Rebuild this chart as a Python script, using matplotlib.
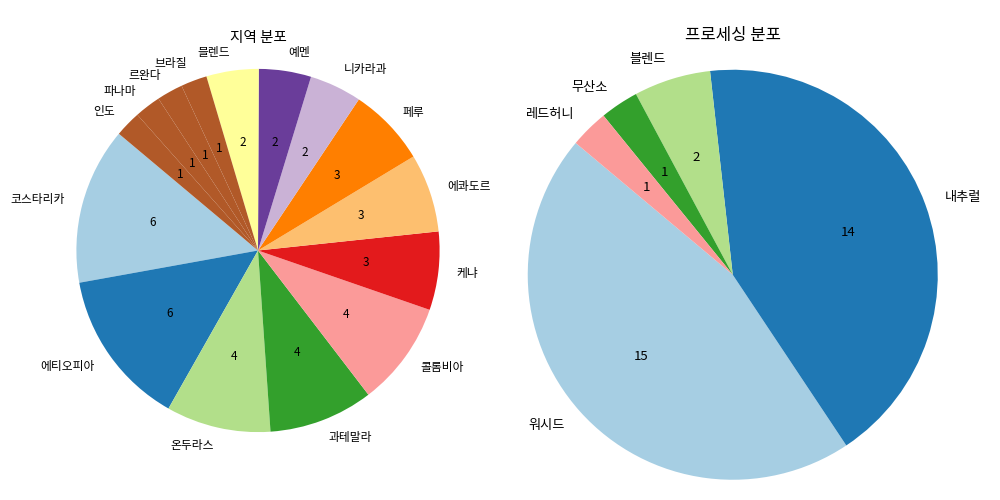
import matplotlib
matplotlib.use("Agg")
import matplotlib.pyplot as plt
import numpy as np

plt.rcParams['font.family'] = ['Noto Sans CJK KR', 'DejaVu Sans']

# 지역 분포
region_labels = ['코스타리카', '에티오피아', '온두라스', '과테말라', '콜롬비아', '케냐',
                 '에콰도르', '페루', '니카라과', '예멘', '블렌드', '브라질', '르완다',
                 '파나마', '인도']
region_counts = [6, 6, 4, 4, 4, 3, 3, 3, 2, 2, 2, 1, 1, 1, 1]

# 프로세싱 분포
process_labels = ['워시드', '내추럴', '블렌드', '무산소', '레드허니']
process_counts = [15, 14, 2, 1, 1]


def count_fmt(values):
    total = sum(values)
    return lambda p: f"{int(round(p * total / 100.0))}"


fig = plt.figure(figsize=(10, 5), dpi=100)

ax1 = fig.add_axes([0.031, 0.045, 0.454, 0.908])
c1 = plt.cm.Paired(np.arange(len(region_counts)))
ax1.pie(region_counts, labels=region_labels, colors=c1, startangle=140,
        autopct=count_fmt(region_counts), textprops={'fontsize': 8.5})
ax1.set_aspect('equal')

ax2 = fig.add_axes([0.4765, -0.062, 0.5125, 1.025])
c2 = plt.cm.Paired(np.arange(len(process_counts)))
ax2.pie(process_counts, labels=process_labels, colors=c2, startangle=140,
        autopct=count_fmt(process_counts), textprops={'fontsize': 9.5})
ax2.set_aspect('equal')

fig.text(0.258, 1 - 38 / 500, '지역 분포', ha='center', va='center', fontsize=10.5)
fig.text(0.733, 1 - 35 / 500, '프로세싱 분포', ha='center', va='center', fontsize=12)

fig.savefig('out.png', dpi=100)
